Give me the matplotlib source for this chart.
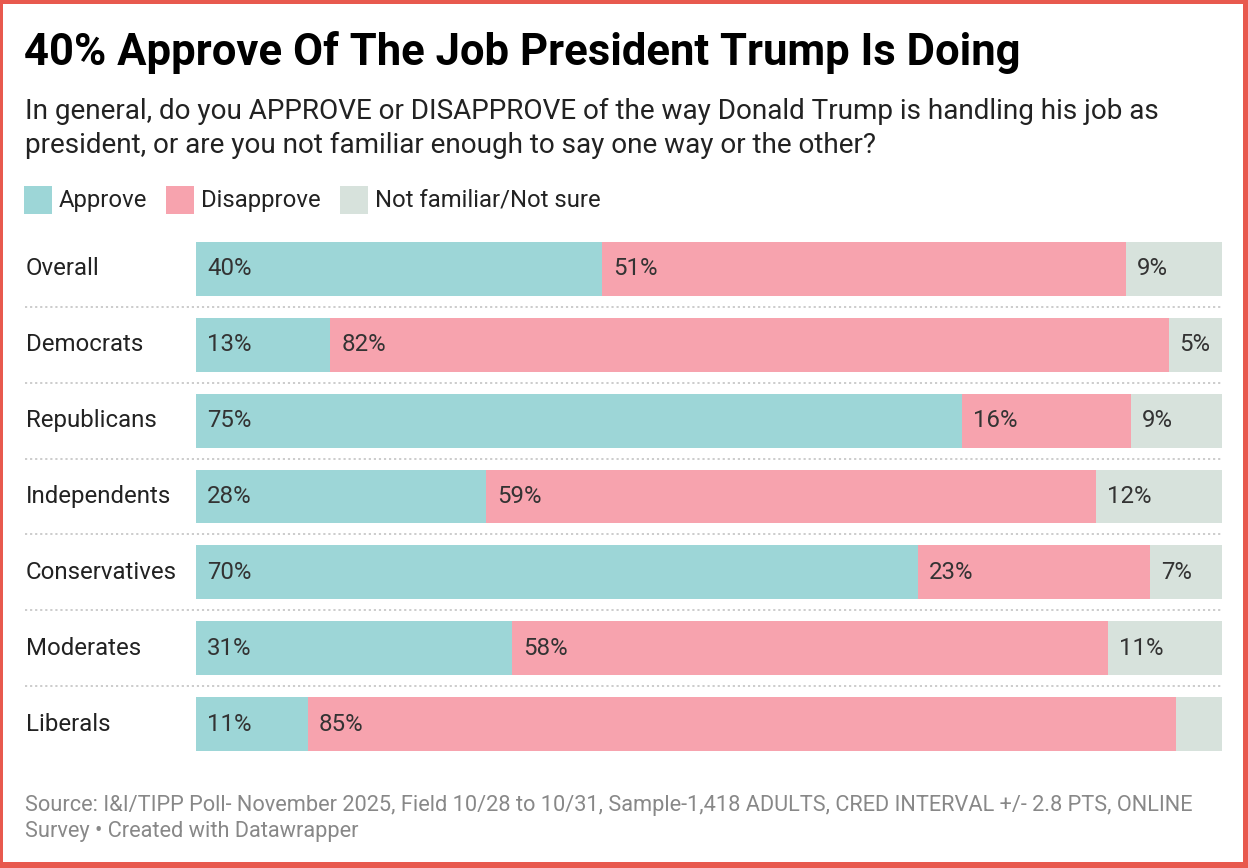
import matplotlib
matplotlib.use("Agg")
import matplotlib.pyplot as plt
from matplotlib.patches import Rectangle
from matplotlib.transforms import blended_transform_factory

plt.rcParams['font.family'] = ['Roboto', 'DejaVu Sans']

# data (bar lengths estimated, labels as printed)
groups = ["Overall", "Democrats", "Republicans", "Independents",
          "Conservatives", "Moderates", "Liberals"]
approve = [39.6, 13.1, 74.7, 28.3, 70.4, 30.8, 10.9]
disapprove = [51.0, 81.7, 16.4, 59.4, 22.6, 58.1, 84.6]
not_sure = [9.4, 5.2, 8.9, 12.3, 7.0, 11.1, 4.5]
series_names = ["Approve", "Disapprove", "Not familiar/Not sure"]
colors = ["#9dd6d7", "#f7a3ae", "#d7e2dc"]

W, H = 1248, 868
fig = plt.figure(figsize=(W / 100, H / 100), dpi=100)
fig.patch.set_facecolor("white")

def fx(x):
    return x / W

def fy(y):
    return 1 - y / H

# plot area
ax = fig.add_axes([fx(196), fy(751), fx(1222) - fx(196), (751 - 242) / H])
ax.set_xlim(0, 100)
ax.set_ylim(len(groups) - 1 + 0.355, -0.355)
ax.axis("off")

rows = list(range(len(groups)))
left = [0] * len(groups)
for vals, col in zip([approve, disapprove, not_sure], colors):
    ax.barh(rows, vals, left=left, height=0.71, color=col, linewidth=0)
    for i, v in enumerate(vals):
        if v >= 5:
            ax.annotate(f"{round(v)}%", xy=(left[i], i), xytext=(11, 0),
                        textcoords="offset pixels", ha="left", va="center",
                        fontsize=17.3, color="#333333")
    left = [l + v for l, v in zip(left, vals)]

# row labels and dotted separators
tr = blended_transform_factory(fig.transFigure, ax.transData)
for i, g in enumerate(groups):
    ax.text(fx(26), i, g, transform=tr, ha="left", va="center",
            fontsize=17.3, color="#222222", clip_on=False)
    if i < len(groups) - 1:
        ax.plot([fx(25), fx(1222)], [i + 0.5, i + 0.5], transform=tr,
                color="#c8c8c8", linestyle=(0, (1.2, 1.6)), linewidth=1.3,
                clip_on=False)

# title and subtitle
fig.text(fx(24), fy(65), "40% Approve Of The Job President Trump Is Doing",
         fontsize=31.4, fontweight="bold", color="black", va="baseline")
fig.text(fx(25), fy(119), "In general, do you APPROVE or DISAPPROVE of the way Donald Trump is handling his job as",
         fontsize=20.1, color="#222222", va="baseline")
fig.text(fx(25), fy(153), "president, or are you not familiar enough to say one way or the other?",
         fontsize=20.1, color="#222222", va="baseline")

# legend
leg_sq = [24, 166, 340]
for x0, name, col in zip(leg_sq, series_names, colors):
    fig.patches.append(Rectangle((fx(x0), fy(214)), 28 / W, 28 / H,
                                 transform=fig.transFigure, color=col, linewidth=0))
    fig.text(fx(x0 + 35), fy(200), name, fontsize=17.2, color="#222222", va="center")

# footer
fig.text(fx(25), fy(811), "Source: I&I/TIPP Poll- November 2025, Field 10/28 to 10/31, Sample-1,418 ADULTS, CRED INTERVAL +/- 2.8 PTS, ONLINE",
         fontsize=15.65, color="#888888", va="baseline")
fig.text(fx(25), fy(837), "Survey \u2022 Created with Datawrapper",
         fontsize=15.65, color="#888888", va="baseline")

# red frame
red = "#e8594e"
for (x0, y0, w, h) in [(0, 0, W, 4), (0, H - 6, W, 6), (0, 0, 3, H), (W - 5, 0, 5, H)]:
    fig.patches.append(Rectangle((fx(x0), fy(y0 + h)), w / W, h / H,
                                 transform=fig.transFigure, color=red, linewidth=0))

fig.savefig("out.png", dpi=100)
